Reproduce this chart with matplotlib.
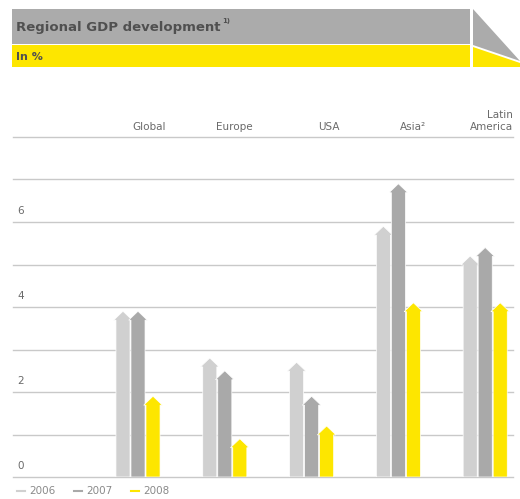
"""
Regional GDP development 2006-2008, drawn as arrow-topped bars.
"""

import matplotlib.pyplot as plt
from matplotlib.patches import Polygon, Rectangle

REGIONS = ["Global", "Europe", "USA", "Asia²", "Latin\nAmerica"]
YEARS = ["2006", "2007", "2008"]
GDP_2006 = [3.9, 2.8, 2.7, 5.9, 5.2]
GDP_2007 = [3.9, 2.5, 1.9, 6.9, 5.4]
GDP_2008 = [1.9, 0.9, 1.2, 4.1, 4.1]
Y_TICKS = [0, 2, 4, 6]

COLORS = ["#d0d0d0", "#a9a9a9", "#fde600"]
GRID = "#c9c9c9"
TEXT = "#6a6a6a"

W, H = 520, 499
STEP = 0.173      # offset between bars in a group
SHAFT = 0.162     # shaft width
HEAD_W = 0.215    # arrowhead width
HEAD_H = 0.21     # arrowhead height


def arrow(ax, x, v, color):
    top = v - HEAD_H
    pts = [
        (x - SHAFT / 2, 0), (x + SHAFT / 2, 0), (x + SHAFT / 2, top),
        (x + HEAD_W / 2, top), (x, v), (x - HEAD_W / 2, top),
        (x - SHAFT / 2, top),
    ]
    ax.add_patch(Polygon(pts, closed=True, facecolor=color,
                         edgecolor="white", linewidth=0.5))


fig = plt.figure(figsize=(W / 100, H / 100), dpi=100)

# chart area: x in category units, y in percent
ax = fig.add_axes([13 / W, (H - 477) / H, 500 / W, 340 / H])
x0 = (13 - 138) / 86.8
ax.set_xlim(x0, x0 + 500 / 86.8)
ax.set_ylim(0, 8)
ax.axis("off")

for g in range(9):
    ax.axhline(g, color=GRID, linewidth=1.0, clip_on=False, zorder=0)

for i, vals in enumerate(zip(GDP_2006, GDP_2007, GDP_2008)):
    for j, v in enumerate(vals):
        arrow(ax, i + (j - 1) * STEP, v, COLORS[j])
    ax.text(i + STEP + SHAFT / 2 + 0.07, 8.12, REGIONS[i], ha="right",
            va="bottom", multialignment="right", fontsize=7.5, color=TEXT,
            linespacing=1.3)

for t in Y_TICKS:
    ax.text(0.008, t + 0.14, str(t), transform=ax.get_yaxis_transform(),
            ha="left", va="bottom", fontsize=7.5, color=TEXT)

# header band and legend, in pixel coordinates
top = fig.add_axes([0, 0, 1, 1], zorder=-1)
top.set_xlim(0, W)
top.set_ylim(H, 0)
top.axis("off")

top.add_patch(Rectangle((12, 9), 458, 35, facecolor="#ababab", edgecolor="none"))
top.add_patch(Rectangle((12, 45), 458, 22, facecolor="#fde600", edgecolor="none"))
top.add_patch(Polygon([(473, 9), (473, 45), (520, 61)], facecolor="#ababab",
                      edgecolor="none"))
top.add_patch(Polygon([(473, 47), (473, 67), (520, 67), (520, 63)],
                      facecolor="#fde600", edgecolor="none"))
top.text(16, 27, "Regional GDP development", fontsize=9.5, fontweight="bold",
         color="#505050", va="center")
top.text(222, 21, "1)", fontsize=5, fontweight="bold", color="#505050",
         va="center")
top.text(16, 57, "In %", fontsize=8, fontweight="bold", color="#505050",
         va="center")

lx = 17
for year, color in zip(YEARS, COLORS):
    top.plot([lx, lx + 8], [491, 491], color=color, linewidth=1.5)
    top.text(lx + 12, 491, year, fontsize=7.5, color="#8a8a8a", va="center")
    lx += 57

fig.savefig("out.png", dpi=100)
